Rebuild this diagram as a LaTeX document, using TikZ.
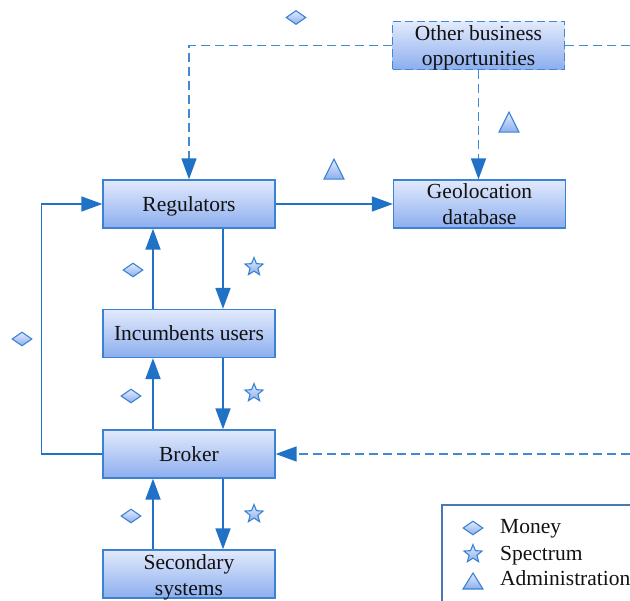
\documentclass[tikz,border=0pt]{standalone}
\usepackage{fontspec}
\setmainfont{Liberation Serif}
\usetikzlibrary{arrows.meta,shapes.geometric,calc}

\definecolor{edgeblue}{HTML}{3B83D2}
\definecolor{linkblue}{HTML}{1F72C6}
\definecolor{dashblue}{HTML}{4189D2}
\definecolor{filltop}{HTML}{E2EAFC}
\definecolor{fillbot}{HTML}{8CAEEE}
\definecolor{legendline}{HTML}{4A78B0}
\definecolor{ink}{HTML}{111111}

% two-line caption, lowered a little inside its box
\newcommand{\twoline}[3]{\raisebox{-#1}[0pt][0pt]{\parbox{160pt}{\centering #2\\#3}}}

\tikzset{
  txt/.style={font=\fontsize{21.5}{25.5}\selectfont, text=ink},
  entity/.style={txt, draw=edgeblue, line width=1.3pt, top color=filltop, bottom color=fillbot,
    minimum width=172pt, minimum height=48pt, inner sep=0pt, align=center},
  optional/.style={entity, draw=dashblue, line width=1.5pt, dash pattern=on 8pt off 4pt},
  tip/.style={-{Triangle[length=21pt,width=15pt,color=linkblue]}},
  link/.style={draw=linkblue, line width=1.8pt, tip},
  thinlink/.style={draw=linkblue, line width=1.4pt},
  dlink/.style={draw=dashblue, line width=1.6pt, dash pattern=on 9pt off 5pt},
  mark base/.style={draw=edgeblue, line width=1.1pt, top color=filltop, bottom color=fillbot, inner sep=0pt},
  money/.style={mark base, diamond, aspect=1.45, minimum width=20pt, minimum height=14pt},
  spectrum/.style={mark base, star, star points=5, star point ratio=2.3, minimum size=19pt},
  admin/.style={mark base, isosceles triangle, isosceles triangle stretches, shape border rotate=90,
    minimum width=20pt, minimum height=20pt},
}

\begin{document}
\begin{tikzpicture}[x=1pt,y=-1pt]
\useasboundingbox (0,0) rectangle (630,601);

% main entities
\node[entity, text depth=0pt] (reg) at (189,204) {Regulators};
\node[entity] (geo) at (479.5,204) {\twoline{5.5pt}{Geolocation}{database}};
\node[optional] (obo) at (478.5,45.5) {\twoline{7.5pt}{Other business}{opportunities}};
\node[entity] (inc) at (189,333.5) {Incumbents users};
\node[entity] (brk) at (189,454) {Broker};
\node[entity] (sec) at (189,574) {\twoline{8.5pt}{Secondary}{systems}};

% loose ends at the right border
\coordinate (oboout) at (630,45.5);
\coordinate (brkin) at (630,454);

% dashed links from other business opportunities
\draw[dlink, tip] (obo.west) -| (reg.north);
\draw[dlink] (obo.east) -- (oboout);
\draw[dlink, tip] (obo.south) -- (obo.south |- geo.north);
\draw[dlink, tip] (brkin) -- (brk.east);

% regulators to geolocation database
\draw[thinlink, tip] (reg.east) -- (geo.west);

% money loop from broker back to regulators
\draw[thinlink, tip] (brk.west) -- ++(-61,0) |- (reg.west);

% vertical chain: payments go up, spectrum goes down
\draw[link] ([xshift=-36pt]inc.north) -- ([xshift=-36pt]reg.south);
\draw[link] ([xshift=34pt]reg.south) -- ([xshift=34pt]inc.north);
\draw[link] ([xshift=-36pt]brk.north) -- ([xshift=-36pt]inc.south);
\draw[link] ([xshift=34pt]inc.south) -- ([xshift=34pt]brk.north);
\draw[link] ([xshift=-36pt]sec.north) -- ([xshift=-36pt]brk.south);
\draw[link] ([xshift=34pt]brk.south) -- ([xshift=34pt]sec.north);

% flow markers
\node[money] (m1) at (296,17.5) {};
\node[admin] (a1) at (334,173) {};
\node[admin] (a2) at (509,126) {};
\node[money] (m2) at (133,270) {};
\node[spectrum] (s1) at (254,267) {};
\node[money] (m3) at (131,396) {};
\node[spectrum] (s2) at (254,393) {};
\node[money] (m4) at (131,516) {};
\node[spectrum] (s3) at (254,514) {};
\node[money] (m5) at (22,339) {};

% legend
\draw[legendline, line width=1.3pt] (630,505) -- (442,505) -- (442,601);
\node[money] (lm) at (473,528) {};
\node[spectrum] (ls) at (473,554) {};
\node[admin, minimum height=16pt] (la) at (473,583.5) {};
\node[txt, anchor=base west, inner sep=0pt] (lmt) at (500,534) {Money};
\node[txt, anchor=base west, inner sep=0pt] (lst) at (500,560.5) {Spectrum};
\node[txt, anchor=base west, inner sep=0pt] (lat) at (500,586) {Administration};
\end{tikzpicture}
\end{document}
